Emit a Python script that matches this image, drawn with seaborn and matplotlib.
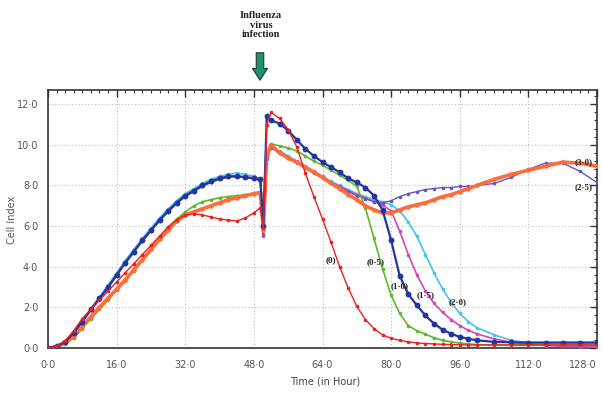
import numpy as np
import pandas as pd
import matplotlib
matplotlib.use("Agg")
import matplotlib.pyplot as plt
from matplotlib.ticker import MultipleLocator, FuncFormatter
import seaborn as sns

# ---------------- data ----------------
hours = [0, 2, 4, 6, 8, 10, 12, 14, 16, 18, 20, 22, 24, 26, 28, 30, 32, 34, 36, 38,
         40, 42, 44, 46, 48, 49.5, 50.2, 51, 52, 54, 56, 58, 60, 62, 64, 66, 68, 70,
         72, 74, 76, 78, 80, 82, 84, 86, 88, 90, 92, 94, 96, 98, 100, 104, 108, 112,
         116, 120, 124, 128]

ci_0 = [0.0, 0.1, 0.35, 0.85, 1.45, 1.9, 2.35, 2.8, 3.25, 3.7, 4.15, 4.6, 5.05, 5.5, 5.95,
        6.3, 6.55, 6.6, 6.55, 6.45, 6.35, 6.3, 6.25, 6.4, 6.65, 6.9, 5.9, 11.0, 11.6, 11.3,
        10.75, 9.9, 8.6, 7.45, 6.35, 5.2, 4.0, 2.95, 2.05, 1.4, 0.95, 0.65, 0.48, 0.38, 0.3,
        0.25, 0.22, 0.2, 0.18, 0.17, 0.16, 0.15, 0.15, 0.15, 0.15, 0.15, 0.15, 0.15, 0.15, 0.15]

ci_05 = [0.0, 0.05, 0.2, 0.5, 0.95, 1.45, 1.9, 2.35, 2.85, 3.3, 3.8, 4.35, 4.9, 5.45, 5.95,
         6.35, 6.7, 7.0, 7.2, 7.3, 7.4, 7.45, 7.5, 7.55, 7.6, 7.55, 5.9, 9.6, 10.05, 9.95,
         9.85, 9.7, 9.45, 9.2, 9.0, 8.75, 8.5, 8.25, 7.95, 6.9, 5.4, 3.9, 2.6, 1.7, 1.1,
         0.85, 0.68, 0.5, 0.38, 0.3, 0.24, 0.2, 0.17, 0.15, 0.14, 0.14, 0.14, 0.14, 0.14, 0.14]

ci_10 = [0.0, 0.1, 0.3, 0.75, 1.3, 1.9, 2.45, 3.0, 3.6, 4.2, 4.75, 5.3, 5.8, 6.3, 6.75,
         7.15, 7.5, 7.75, 8.0, 8.2, 8.35, 8.45, 8.45, 8.4, 8.35, 8.3, 6.0, 11.4, 11.2, 11.05,
         10.7, 10.25, 9.8, 9.45, 9.15, 8.9, 8.65, 8.35, 8.15, 7.9, 7.5, 6.8, 5.3, 3.55, 2.65,
         2.1, 1.6, 1.2, 0.9, 0.7, 0.55, 0.45, 0.38, 0.3, 0.28, 0.27, 0.27, 0.27, 0.27, 0.27]

ci_15 = [0.0, 0.1, 0.32, 0.78, 1.32, 1.88, 2.42, 2.98, 3.58, 4.18, 4.72, 5.28, 5.78, 6.28, 6.72,
         7.12, 7.48, 7.72, 7.98, 8.18, 8.32, 8.42, 8.48, 8.42, 8.38, 8.25, 5.5, 9.4, 9.9, 9.65,
         9.4, 9.15, 8.9, 8.65, 8.4, 8.15, 7.95, 7.75, 7.55, 7.38, 7.2, 7.05, 6.75, 5.75, 4.6,
         3.6, 2.8, 2.2, 1.75, 1.4, 1.1, 0.87, 0.7, 0.45, 0.28, 0.18, 0.12, 0.08, 0.06, 0.05]

ci_20 = [0.0, 0.1, 0.35, 0.8, 1.35, 1.95, 2.5, 3.1, 3.7, 4.3, 4.85, 5.4, 5.9, 6.4, 6.85,
         7.25, 7.6, 7.85, 8.1, 8.3, 8.45, 8.55, 8.6, 8.55, 8.45, 8.3, 5.8, 9.4, 9.9, 9.7,
         9.45, 9.2, 8.95, 8.7, 8.45, 8.2, 8.0, 7.8, 7.6, 7.45, 7.3, 7.2, 7.05, 6.75, 6.2,
         5.5, 4.6, 3.7, 2.9, 2.25, 1.7, 1.3, 1.0, 0.65, 0.38, 0.25, 0.2, 0.2, 0.2, 0.2]

ci_25 = [0.0, 0.1, 0.3, 0.75, 1.3, 1.85, 2.4, 2.95, 3.55, 4.15, 4.7, 5.25, 5.75, 6.25, 6.7,
         7.1, 7.45, 7.7, 7.95, 8.15, 8.3, 8.4, 8.45, 8.4, 8.35, 8.25, 5.6, 9.3, 9.85, 9.6,
         9.35, 9.1, 8.85, 8.6, 8.35, 8.1, 7.9, 7.7, 7.5, 7.35, 7.2, 7.15, 7.25, 7.45, 7.6,
         7.7, 7.8, 7.85, 7.9, 7.9, 7.95, 7.95, 8.0, 8.1, 8.4, 8.8, 9.1, 9.1, 8.7, 8.15]

ci_30 = [0.0, 0.05, 0.25, 0.6, 1.05, 1.55, 2.0, 2.45, 2.9, 3.35, 3.85, 4.35, 4.85, 5.35, 5.8,
         6.25, 6.55, 6.7, 6.85, 7.0, 7.15, 7.3, 7.4, 7.5, 7.6, 7.65, 5.8, 9.5, 10.0, 9.6,
         9.35, 9.15, 8.9, 8.65, 8.4, 8.1, 7.85, 7.55, 7.3, 7.0, 6.8, 6.65, 6.65, 6.8, 6.95,
         7.05, 7.15, 7.3, 7.45, 7.55, 7.7, 7.85, 8.0, 8.3, 8.55, 8.75, 8.95, 9.15, 9.1, 8.95]

series_names = ["(0)", "(0·5)", "(1·0)", "(1·5)", "(2·0)", "(2·5)", "(3·0)"]
series_values = [ci_0, ci_05, ci_10, ci_15, ci_20, ci_25, ci_30]

label_x = [66.0, 76.5, 82.0, 88.0, 95.5, 124.8, 124.8]
label_y = [4.3, 4.2, 3.05, 2.6, 2.25, 7.9, 9.15]

x_ticks = [0, 16, 32, 48, 64, 80, 96, 112, 128]
y_ticks = [0, 2, 4, 6, 8, 10, 12]

# ---------------- styling ----------------
colors = {"(0)": "#e8231f", "(0·5)": "#5db82c", "(1·0)": "#23359f",
          "(1·5)": "#d447b4", "(2·0)": "#45c3ee", "(2·5)": "#6656c8",
          "(3·0)": "#ff6b3a"}
mstyle = {"(0)": ("o", 2.6, 1.0), "(0·5)": ("o", 2.6, 1.2), "(1·0)": ("o", 4.2, 1.6),
          "(1·5)": ("o", 2.6, 1.2), "(2·0)": ("o", 2.6, 1.2), "(2·5)": ("o", 2.6, 1.0),
          "(3·0)": ("o", 3.2, 2.6)}
draw_order = ["(2·0)", "(1·5)", "(2·5)", "(0·5)", "(3·0)", "(1·0)", "(0)"]

sns.set_theme(style="white")
plt.rcParams["font.family"] = ["DejaVu Sans"]

fig = plt.figure(figsize=(6.02, 3.93), dpi=100)
ax = fig.add_axes([48 / 602, 45 / 393, 549 / 602, 258 / 393])

frames = []
for name, vals in zip(series_names, series_values):
    frames.append(pd.DataFrame({"Time": hours, "CI": vals, "conc": name}))
df = pd.concat(frames, ignore_index=True)

for k, name in enumerate(draw_order):
    sub = df[df["conc"] == name]
    m, ms, lw = mstyle[name]
    sns.lineplot(data=sub, x="Time", y="CI", ax=ax, color=colors[name],
                 marker=m, markersize=ms, markeredgewidth=0, linewidth=lw,
                 estimator=None, sort=False, zorder=3 + k, legend=False)

ax.set_xlim(0, 128)
ax.set_ylim(0, 12.7)
ax.set_xticks(x_ticks)
ax.set_yticks(y_ticks)
ax.xaxis.set_minor_locator(MultipleLocator(2))
ax.yaxis.set_minor_locator(MultipleLocator(0.4))
fmt = FuncFormatter(lambda v, p: f"{v:.1f}".replace(".", "·"))
ax.xaxis.set_major_formatter(fmt)
ax.yaxis.set_major_formatter(fmt)
ax.tick_params(which="both", direction="in", top=True, right=True, color="#333333")
ax.tick_params(which="major", length=5, width=1.0, labelsize=7, labelcolor="#555555")
ax.tick_params(axis="x", which="major", pad=9)
ax.tick_params(axis="y", which="major", pad=7)
ax.tick_params(which="minor", length=2.5, width=0.8)
ax.grid(True, which="major", linestyle=(0, (1, 2)), color="#bbbbbb", linewidth=0.8)
for s in ax.spines.values():
    s.set_color("#333333")
    s.set_linewidth(1.2)

# keep the last x label inside the canvas
fig.canvas.draw()
xlabels = ax.get_xticklabels()
xlabels[-1].set_horizontalalignment("right")
xlabels[-1].set_x(xlabels[-1].get_position()[0])
ax.set_xticklabels([t.get_text() for t in xlabels])
ax.get_xticklabels()[-1].set_horizontalalignment("right")

ax.set_xlabel("")
ax.set_ylabel("")
fig.text(325 / 602, 1 - 381 / 393, "Time (in Hour)", ha="center", va="center",
         fontsize=7, color="#444444")
fig.text(12 / 602, 1 - 220 / 393, "Cell Index", ha="center", va="center",
         rotation=90, fontsize=7, color="#555555")

for name, lx, ly in zip(series_names, label_x, label_y):
    ax.text(lx, ly, name, ha="center", va="center", fontsize=6.5, fontweight="bold",
            family="Liberation Serif", color="#222222", zorder=20)

fig.text(261 / 602, 1 - 25 / 393, "Influenza\nvirus\ninfection", ha="center", va="center",
         fontsize=7.5, fontweight="bold", family="Liberation Serif", color="#222222",
         linespacing=1.05)
ax.annotate("", xy=(260, 393 - 83), xytext=(260, 393 - 50), xycoords="figure pixels",
            textcoords="figure pixels",
            arrowprops=dict(arrowstyle="simple,head_length=0.7,head_width=0.9,tail_width=0.45",
                            fc="#1f9070", ec="#1a3b30", lw=0.8))

fig.savefig("out.png", dpi=100)
